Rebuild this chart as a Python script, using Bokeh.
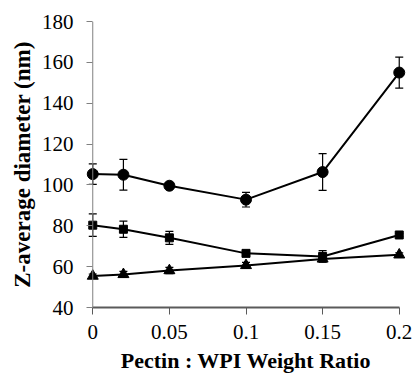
from bokeh.plotting import figure
from bokeh.models import ColumnDataSource, Whisker, TeeHead, Range1d, FixedTicker, Span
from bokeh.embed import file_html
from bokeh.resources import INLINE

ratio = [0, 0.02, 0.05, 0.1, 0.15, 0.2]

circle_y = [105.3, 105.0, 99.6, 92.8, 106.3, 155.0]
circle_err = [5.0, 7.5, 1.2, 3.6, 9.0, 7.6]

square_y = [80.3, 78.3, 74.1, 66.5, 65.0, 75.5]
square_err = [5.5, 4.0, 3.2, 1.0, 2.8, 0.8]

triangle_y = [55.4, 56.2, 58.1, 60.6, 63.8, 65.8]
triangle_err = [1.0, 1.5, 1.5, 1.5, 1.5, 1.0]

x_ticks = [0, 0.05, 0.1, 0.15, 0.2]
x_tick_labels = {0: "0", 0.05: "0.05", 0.1: "0.1", 0.15: "0.15", 0.2: "0.2"}
y_ticks = [40, 60, 80, 100, 120, 140, 160, 180]

p = figure(width=414, height=375, output_backend="svg", toolbar_location=None,
           x_range=Range1d(-0.008, 0.208), y_range=Range1d(40, 180),
           min_border_left=80, min_border_right=3, min_border_top=21, min_border_bottom=66)
p.outline_line_color = None
p.grid.visible = False
p.background_fill_color = "white"

FONT = "Liberation Serif"

for ax in (p.xaxis[0], p.yaxis[0]):
    ax.major_label_text_font = FONT
    ax.major_label_text_font_size = "21px"
    ax.major_label_text_color = "black"
    ax.axis_label_text_font = FONT
    ax.axis_label_text_font_style = "bold"
    ax.axis_label_text_color = "black"
    ax.minor_tick_line_color = None

p.xaxis[0].ticker = FixedTicker(ticks=x_ticks)
p.xaxis[0].major_label_overrides = x_tick_labels
p.xaxis[0].bounds = (0, 0.2)
p.xaxis[0].axis_line_color = "#5a5a5a"
p.xaxis[0].axis_line_width = 2
p.xaxis[0].major_tick_line_color = "#5a5a5a"
p.xaxis[0].major_tick_in = 0
p.xaxis[0].major_tick_out = 7
p.xaxis[0].major_label_standoff = 10
p.xaxis[0].axis_label = "Pectin : WPI Weight Ratio"
p.xaxis[0].axis_label_text_font_size = "22px"
p.xaxis[0].axis_label_standoff = 6

# y axis sits at the frame edge; its ticks are pushed inward to meet the x=0 line
p.yaxis[0].ticker = FixedTicker(ticks=y_ticks)
p.yaxis[0].axis_line_color = None
p.yaxis[0].major_tick_line_color = "#808080"
p.yaxis[0].major_tick_in = 12
p.yaxis[0].major_tick_out = -6
p.yaxis[0].major_label_standoff = 7
p.yaxis[0].axis_label = "Z-average diameter (nm)"
p.yaxis[0].axis_label_text_font_size = "23px"
p.yaxis[0].axis_label_standoff = 4

p.add_layout(Span(location=0, dimension="height", line_color="#808080", line_width=1))

series = [
    (circle_y, circle_err, "circle", 11),
    (square_y, square_err, "square", 8),
    (triangle_y, triangle_err, "triangle", 11),
]
for ys, errs, marker, size in series:
    src = ColumnDataSource(dict(x=ratio, y=ys,
                                lo=[a - b for a, b in zip(ys, errs)],
                                hi=[a + b for a, b in zip(ys, errs)]))
    w = Whisker(source=src, base="x", lower="lo", upper="hi",
                line_color="black", line_width=1.2,
                upper_head=TeeHead(size=8, line_color="black", line_width=1.2),
                lower_head=TeeHead(size=8, line_color="black", line_width=1.2))
    p.add_layout(w)
    p.line("x", "y", source=src, line_color="black", line_width=2)
    p.scatter("x", "y", source=src, marker=marker, size=size,
              fill_color="black", line_color="black")

open("out.html", "w").write(file_html(p, INLINE))
